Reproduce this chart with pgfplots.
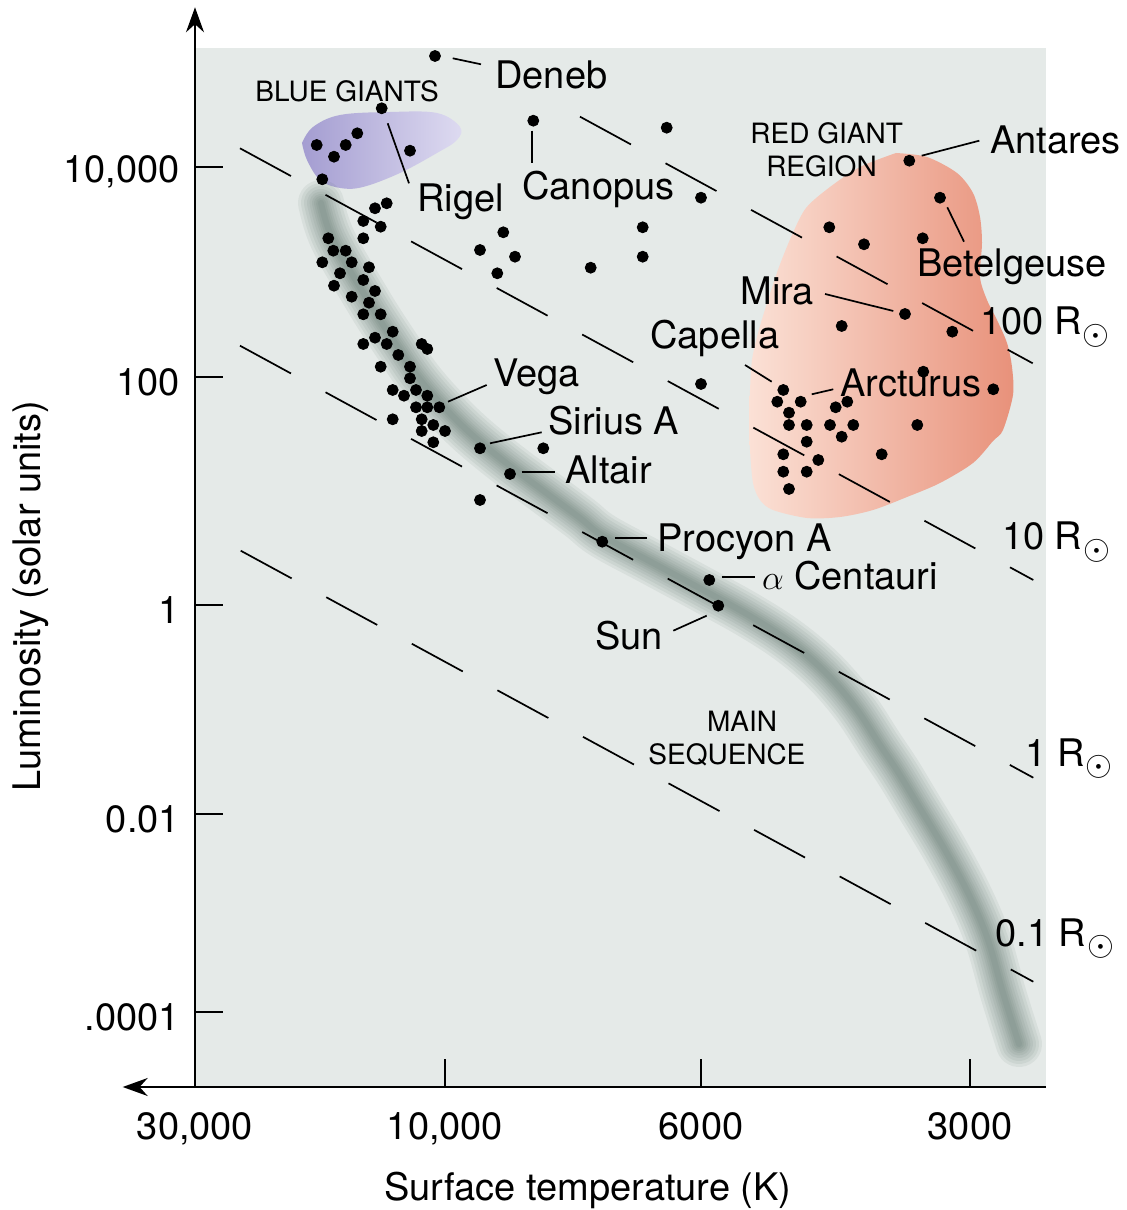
\documentclass[border=0pt]{standalone}
\usepackage{pgfplots}
\pgfplotsset{compat=1.18}
\usepackage{pgfplotstable}
\usepackage{fontspec}
\setmainfont{TeX Gyre Heros}
\usetikzlibrary{arrows.meta}
\definecolor{bgc}{HTML}{E5EAE8}
\definecolor{redL}{HTML}{FBE1D6}
\definecolor{redR}{HTML}{E8917A}
\definecolor{bluL}{HTML}{A49DD1}
\definecolor{bluR}{HTML}{DEDBF1}
\definecolor{msc}{HTML}{3F5A4F}
\newcommand{\fbig}{\fontsize{19}{22}\selectfont}
\newcommand{\fsmall}{\fontsize{14}{17}\selectfont}
\newcommand{\Rsun}{R\kern0.5pt\raisebox{-4.6pt}{$\odot$}}

% main-sequence band centre line (x in image px, y = -image px)
\pgfplotstableread{
x y
321 -203
326 -222
333 -240
346 -264
361 -289
378 -317
397 -346
418 -377
442 -405
470 -433
505 -462
545 -492
580 -518
603 -536
653 -563
703 -590
750 -616
790 -642
825 -672
855 -707
880 -745
898 -772
918 -805
945 -850
970 -897
988 -940
1003 -993
1019 -1044
}\mstab

\pgfplotstableread{
x y
896 -153
927 -157
957 -173
973 -193
980 -217
982 -243
980 -277
987 -300
997 -320
1007 -343
1012 -367
1013 -395
1003 -430
993 -441
973 -463
940 -483
907 -497
873 -510
840 -517
807 -518
773 -510
760 -500
753 -483
750 -450
749 -420
750 -390
752 -360
758 -333
768 -300
779 -267
792 -235
806 -208
830 -187
860 -167
896 -153
}\redtab

\pgfplotstableread{
x y
302 -143
313 -127
340 -115
390 -112
437 -113
460 -127
457 -140
437 -153
400 -173
363 -187
340 -188
320 -180
307 -160
302 -143
}\bluetab

\pgfplotstableread{
x y
435 -56
381.7 -108.3
357.3 -133.3
316.7 -145
345.7 -145
334 -156.7
410 -150.7
322.3 -179.3
386.7 -203.3
375 -208.3
363.3 -221
380.7 -226.7
363.3 -238.3
328.3 -238.3
333.3 -250.7
345.7 -250.7
322.3 -262.3
351.7 -262.3
369 -267.3
340 -273.3
363.3 -280
334 -285.7
375 -291
351.7 -296.7
369 -302.7
363.3 -314.3
380.7 -314.3
392.7 -331.7
375 -337.7
363.3 -344
386.7 -344
421.7 -344
427.3 -349
398.3 -355
380.7 -366.7
410 -366.7
410 -378.3
392.7 -390
404 -395.7
416 -390
427.3 -395.7
416 -407.3
427.3 -407.3
439.3 -407.3
392.7 -419.3
421.7 -419.3
433.3 -425
445 -431
421.7 -431
433.3 -442.3
533.3 -120.7
666.7 -127.7
701 -197.7
642.7 -227.3
642.7 -256.7
590.7 -267.7
503.3 -232.3
480 -250
515 -256.7
497.3 -273.3
701 -384
480 -448.3
543.3 -448.3
510 -474
480 -500
602.3 -541.7
709.3 -580
718.3 -605.7
909.3 -160.7
940 -197.7
829.3 -227.3
864 -244.3
922.7 -238.3
905 -314
841.7 -326
952.3 -331.7
923.3 -371.7
993.3 -389.3
783.3 -390
777.3 -401.7
800.7 -401.7
847.3 -401.7
835.7 -407.3
789 -412.7
789 -425
806.7 -425
830 -425
853.3 -425
917.3 -425
841.7 -436.7
806.7 -441.7
783.3 -454.3
818.3 -460
881.7 -454.3
783.3 -471.7
806.7 -471.7
789 -489
}\startab

\begin{document}
\begin{tikzpicture}
\begin{axis}[
  x=0.5pt, y=0.5pt,
  xmin=195, xmax=1046, ymin=-1087, ymax=-48,
  enlargelimits=false,
  axis lines=left,
  axis line style={draw=none,-},
  axis background/.style={fill=bgc},
  clip=false,
  xtick={195,445,701,970},
  xticklabels={\mbox{30,000},\mbox{10,000},\mbox{6000},\mbox{3000}},
  ytick={-1012,-814,-605,-377,-167},
  yticklabels={\mbox{.0001},\mbox{0.01},\mbox{1},\mbox{100},\mbox{10,000}},
  /pgf/number format/assume math mode=true,
  tick align=inside,
  major tick length=14pt,
  tick style={black, line width=0.75pt},
  xticklabel style={font=\fbig, yshift=-9.2pt},
  yticklabel style={font=\fbig, xshift=-4pt, yshift=-2.5pt},
  xlabel={Surface temperature (K)},
  ylabel={Luminosity (solar units)},
  xlabel style={font=\fbig, at={(axis description cs:0.4618,-0.1088)}, anchor=base},
  ylabel style={font=\fbig, at={(axis description cs:-0.1815,0.4726)}, anchor=base},
]
% regions
\addplot[draw=none, mark=none, left color=bluL, right color=bluR, smooth, tension=0.6] table {\bluetab} -- cycle;
\addplot[draw=none, mark=none, left color=redL, right color=redR, smooth, tension=0.5] table {\redtab} -- cycle;

% main sequence band (soft)
\addplot[msc, opacity=0.075, line width=23pt, line cap=round, mark=none, smooth, tension=0.6] table {\mstab};
\addplot[msc, opacity=0.075, line width=20pt, line cap=round, mark=none, smooth, tension=0.6] table {\mstab};
\addplot[msc, opacity=0.075, line width=17pt, line cap=round, mark=none, smooth, tension=0.6] table {\mstab};
\addplot[msc, opacity=0.075, line width=14pt, line cap=round, mark=none, smooth, tension=0.6] table {\mstab};
\addplot[msc, opacity=0.075, line width=11.5pt, line cap=round, mark=none, smooth, tension=0.6] table {\mstab};
\addplot[msc, opacity=0.075, line width=9pt, line cap=round, mark=none, smooth, tension=0.6] table {\mstab};
\addplot[msc, opacity=0.075, line width=7pt, line cap=round, mark=none, smooth, tension=0.6] table {\mstab};
\addplot[msc, opacity=0.075, line width=5pt, line cap=round, mark=none, smooth, tension=0.6] table {\mstab};
\addplot[msc, opacity=0.075, line width=3pt, line cap=round, mark=none, smooth, tension=0.6] table {\mstab};

% lines of constant radius
\addplot[black, mark=none, line width=0.85pt, dash pattern=on 29pt off 19.7pt] coordinates {(580,-116.7) (1032.7,-363.3)};
\addplot[black, mark=none, line width=0.85pt, dash pattern=on 29pt off 19.7pt] coordinates {(240,-148.3) (1033.3,-580)};
\addplot[black, mark=none, line width=0.85pt, dash pattern=on 29pt off 19.7pt] coordinates {(240,-345.7) (1033.3,-777.7)};
\addplot[black, mark=none, line width=0.85pt, dash pattern=on 29pt off 19.7pt] coordinates {(240.7,-550.7) (1033.3,-981.7)};

% pointer lines
\addplot[black, mark=none, line width=0.85pt] coordinates {(452.7,-58.3) (481,-64.3)};
\addplot[black, mark=none, line width=0.85pt] coordinates {(387.7,-123.3) (409,-183.3)};
\addplot[black, mark=none, line width=0.85pt] coordinates {(532.3,-130.7) (532.3,-163.3)};
\addplot[black, mark=none, line width=0.85pt] coordinates {(921.7,-155.7) (979.3,-140.7)};
\addplot[black, mark=none, line width=0.85pt] coordinates {(947.3,-207.3) (964,-241.7)};
\addplot[black, mark=none, line width=0.85pt] coordinates {(825,-294) (893.3,-311)};
\addplot[black, mark=none, line width=0.85pt] coordinates {(745,-365) (771.7,-381.7)};
\addplot[black, mark=none, line width=0.85pt] coordinates {(811.7,-394.3) (833.3,-389.3)};
\addplot[black, mark=none, line width=0.85pt] coordinates {(448,-401.7) (486.7,-385)};
\addplot[black, mark=none, line width=0.85pt] coordinates {(490,-443.3) (541.7,-432.3)};
\addplot[black, mark=none, line width=0.85pt] coordinates {(521.7,-471.7) (555,-471.7)};
\addplot[black, mark=none, line width=0.85pt] coordinates {(615,-538.3) (647.3,-538.3)};
\addplot[black, mark=none, line width=0.85pt] coordinates {(721.7,-577.3) (755,-577.3)};
\addplot[black, mark=none, line width=0.85pt] coordinates {(673.3,-630.7) (706.7,-615.7)};

% stars
\addplot[only marks, mark=*, mark size=2.75pt, mark options={draw=black, fill=black}] table {\startab};

% axis lines with arrows
\draw[line width=0.9pt, -{Stealth[length=12.5pt, width=9pt]}] (axis cs:195,-1087) -- (axis cs:195,-7.3);
\draw[line width=0.9pt, -{Stealth[length=12.5pt, width=9pt]}] (axis cs:1046,-1087) -- (axis cs:122.7,-1087);

% labels
\node[anchor=base west, inner sep=0pt, font=\fsmall] at (axis cs:255,-102) {BLUE GIANTS};
\node[anchor=base west, inner sep=0pt, font=\fbig] at (axis cs:495,-88.3) {Deneb};
\node[anchor=base west, inner sep=0pt, font=\fbig] at (axis cs:417,-212) {Rigel};
\node[anchor=base west, inner sep=0pt, font=\fbig] at (axis cs:522,-200) {Canopus};
\node[anchor=base, inner sep=0pt, font=\fsmall] at (axis cs:826.7,-143.3) {RED GIANT};
\node[anchor=base, inner sep=0pt, font=\fsmall] at (axis cs:821.5,-176.7) {REGION};
\node[anchor=base west, inner sep=0pt, font=\fbig] at (axis cs:990,-153.3) {Antares};
\node[anchor=base west, inner sep=0pt, font=\fbig] at (axis cs:917,-276.7) {Betelgeuse};
\node[anchor=base west, inner sep=0pt, font=\fbig] at (axis cs:740,-305) {Mira};
\node[anchor=base west, inner sep=0pt, font=\fbig] at (axis cs:980,-335) {100 \Rsun};
\node[anchor=base west, inner sep=0pt, font=\fbig] at (axis cs:650,-348.3) {Capella};
\node[anchor=base west, inner sep=0pt, font=\fbig] at (axis cs:840,-397) {Arcturus};
\node[anchor=base west, inner sep=0pt, font=\fbig] at (axis cs:493,-386.7) {Vega};
\node[anchor=base west, inner sep=0pt, font=\fbig] at (axis cs:548,-435) {Sirius A};
\node[anchor=base west, inner sep=0pt, font=\fbig] at (axis cs:565,-484) {Altair};
\node[anchor=base west, inner sep=0pt, font=\fbig] at (axis cs:657,-551.7) {Procyon A};
\node[anchor=base west, inner sep=0pt, font=\fbig] at (axis cs:761.7,-590) {$\alpha$ Centauri};
\node[anchor=base west, inner sep=0pt, font=\fbig] at (axis cs:595,-650) {Sun};
\node[anchor=base west, inner sep=0pt, font=\fsmall] at (axis cs:706.7,-731.7) {MAIN};
\node[anchor=base west, inner sep=0pt, font=\fsmall] at (axis cs:648,-765) {SEQUENCE};
\node[anchor=base west, inner sep=0pt, font=\fbig] at (axis cs:1001.7,-550) {10 \Rsun};
\node[anchor=base west, inner sep=0pt, font=\fbig] at (axis cs:1025,-766.7) {1 \Rsun};
\node[anchor=base west, inner sep=0pt, font=\fbig] at (axis cs:995,-946.7) {0.1 \Rsun};

\coordinate (BL) at (axis cs:0,-1210);
\coordinate (TR) at (axis cs:1126,0);
\end{axis}
\pgfresetboundingbox
\path[use as bounding box] (BL) rectangle (TR);
\end{tikzpicture}
\end{document}
